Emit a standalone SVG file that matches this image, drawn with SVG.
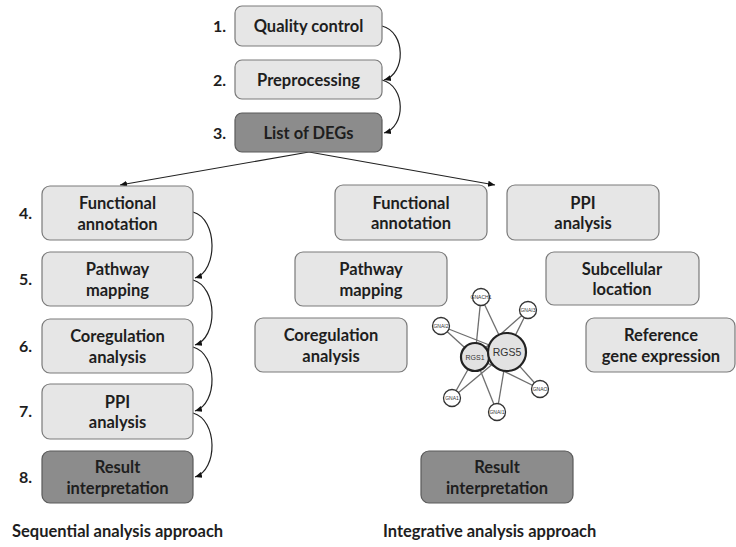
<svg xmlns="http://www.w3.org/2000/svg" width="736" height="547" viewBox="0 0 736 547">
<style>
.box{fill:#e6e6e6;stroke:#7a7a7a;stroke-width:1.2}
.dark{fill:#8c8c8c;stroke:#5a5a5a;stroke-width:1.2}
.t{font-family:Lato,"Open Sans","Liberation Sans",sans-serif;font-weight:bold;font-size:16.5px;fill:#1e1e1e;text-anchor:middle}
.n{font-family:Lato,"Open Sans","Liberation Sans",sans-serif;font-weight:bold;font-size:16px;fill:#1e1e1e;text-anchor:end}
.cap{font-family:Lato,"Open Sans","Liberation Sans",sans-serif;font-weight:bold;font-size:16.5px;fill:#1e1e1e}
.conn{fill:none;stroke:#222;stroke-width:1.2}
.edge{stroke:#6e6e6e;stroke-width:1.3}
.sm{fill:#fff;stroke:#333;stroke-width:1.3}
.big{fill:#e2e2e2;stroke:#222;stroke-width:2.2}
.nl{font-family:"Liberation Sans",sans-serif;fill:#333;text-anchor:middle}
</style>
<defs>
<marker id="ah" markerWidth="8" markerHeight="8" refX="7" refY="4" orient="auto" markerUnits="userSpaceOnUse">
<path d="M0,1 L7,4 L0,7 Z" fill="#111"/>
</marker>
</defs>
<rect width="736" height="547" fill="#fff"/>

<g id="connectors">
<path class="conn" d="M382,26 C406,32 406,74 384,80" marker-end="url(#ah)"/>
<path class="conn" d="M382,80 C406,86 406,127 384,133" marker-end="url(#ah)"/>
<path class="conn" d="M309,152 L120,185" marker-end="url(#ah)"/>
<path class="conn" d="M309,152 L495,185" marker-end="url(#ah)"/>
<path class="conn" d="M193,212 C218,219 218,271 195,278" marker-end="url(#ah)"/>
<path class="conn" d="M193,280 C218,287 218,338 195,345" marker-end="url(#ah)"/>
<path class="conn" d="M193,347 C218,354 218,404 195,411" marker-end="url(#ah)"/>
<path class="conn" d="M193,413 C218,420 218,470 195,477" marker-end="url(#ah)"/>
</g>

<g id="n1"><text class="n" x="226" y="32">1.</text><rect class="box" x="235" y="6" width="147" height="40" rx="7"/><text class="t" x="308.5" y="32">Quality control</text></g>
<g id="n2"><text class="n" x="226" y="86">2.</text><rect class="box" x="235" y="60" width="147" height="39" rx="7"/><text class="t" x="308.5" y="86">Preprocessing</text></g>
<g id="n3"><text class="n" x="226" y="139">3.</text><rect class="dark" x="235" y="113" width="147" height="39" rx="7"/><text class="t" x="308.5" y="139">List of DEGs</text></g>

<g id="n4"><text class="n" x="32" y="219">4.</text><rect class="box" x="42" y="186" width="151" height="54" rx="8"/><text class="t" x="117.5" y="209">Functional</text><text class="t" x="117.5" y="229.5">annotation</text></g>
<g id="n5"><text class="n" x="32" y="285">5.</text><rect class="box" x="42" y="252" width="151" height="54" rx="8"/><text class="t" x="117.5" y="275">Pathway</text><text class="t" x="117.5" y="295.5">mapping</text></g>
<g id="n6"><text class="n" x="32" y="352">6.</text><rect class="box" x="42" y="319" width="151" height="54" rx="8"/><text class="t" x="117.5" y="342">Coregulation</text><text class="t" x="117.5" y="362.5">analysis</text></g>
<g id="n7"><text class="n" x="32" y="417">7.</text><rect class="box" x="42" y="384" width="151" height="55" rx="8"/><text class="t" x="117.5" y="407.5">PPI</text><text class="t" x="117.5" y="428">analysis</text></g>
<g id="n8"><text class="n" x="32" y="483">8.</text><rect class="dark" x="42" y="451" width="151" height="52" rx="8"/><text class="t" x="117.5" y="473">Result</text><text class="t" x="117.5" y="493.5">interpretation</text></g>

<g id="r1"><rect class="box" x="335" y="185" width="152" height="55" rx="8"/><text class="t" x="411" y="208.5">Functional</text><text class="t" x="411" y="229">annotation</text></g>
<g id="r2"><rect class="box" x="507" y="185" width="152" height="55" rx="8"/><text class="t" x="583" y="208.5">PPI</text><text class="t" x="583" y="229">analysis</text></g>
<g id="r3"><rect class="box" x="295" y="252" width="152" height="54" rx="8"/><text class="t" x="371" y="275">Pathway</text><text class="t" x="371" y="295.5">mapping</text></g>
<g id="r4"><rect class="box" x="546" y="252" width="153" height="53" rx="8"/><text class="t" x="622" y="274.5">Subcellular</text><text class="t" x="622" y="295">location</text></g>
<g id="r5"><rect class="box" x="255" y="318" width="152" height="54" rx="8"/><text class="t" x="331" y="341">Coregulation</text><text class="t" x="331" y="361.5">analysis</text></g>
<g id="r6"><rect class="box" x="586" y="318" width="149" height="54" rx="8"/><text class="t" x="661" y="341">Reference</text><text class="t" x="661" y="361.5">gene expression</text></g>
<g id="r7"><rect class="dark" x="421" y="451" width="152" height="52" rx="8"/><text class="t" x="497" y="473">Result</text><text class="t" x="497" y="493.5">interpretation</text></g>

<g id="network">
<g class="edge">
<line x1="481" y1="297" x2="475" y2="357"/><line x1="481" y1="297" x2="507" y2="352"/>
<line x1="528" y1="310" x2="475" y2="357"/><line x1="528" y1="310" x2="507" y2="352"/>
<line x1="441" y1="326" x2="475" y2="357"/><line x1="441" y1="326" x2="507" y2="352"/>
<line x1="540" y1="389" x2="475" y2="357"/><line x1="540" y1="389" x2="507" y2="352"/>
<line x1="452" y1="398" x2="475" y2="357"/><line x1="452" y1="398" x2="507" y2="352"/>
<line x1="497" y1="412" x2="475" y2="357"/><line x1="497" y1="412" x2="507" y2="352"/>
</g>
<circle class="sm" cx="481" cy="297" r="8.5"/><text class="nl" x="481" y="299" font-size="5">GNACH1</text>
<circle class="sm" cx="528" cy="310" r="8.5"/><text class="nl" x="528" y="312" font-size="5">GNAI3</text>
<circle class="sm" cx="441" cy="326" r="8.5"/><text class="nl" x="441" y="328" font-size="5">GNAI2</text>
<circle class="sm" cx="540" cy="389" r="8.5"/><text class="nl" x="540" y="391" font-size="5">GNAO</text>
<circle class="sm" cx="452" cy="398" r="8.5"/><text class="nl" x="452" y="400" font-size="5">GNA1</text>
<circle class="sm" cx="497" cy="412" r="8.5"/><text class="nl" x="497" y="414" font-size="5">GNAI1</text>
<circle class="big" cx="475" cy="357" r="14"/><text class="nl" x="475" y="360" font-size="7">RGS1</text>
<circle class="big" cx="507" cy="352" r="19"/><text class="nl" x="507" y="356" font-size="10.5">RGS5</text>
</g>

<text class="cap" x="12" y="537">Sequential analysis approach</text>
<text class="cap" x="383" y="537">Integrative analysis approach</text>
</svg>
